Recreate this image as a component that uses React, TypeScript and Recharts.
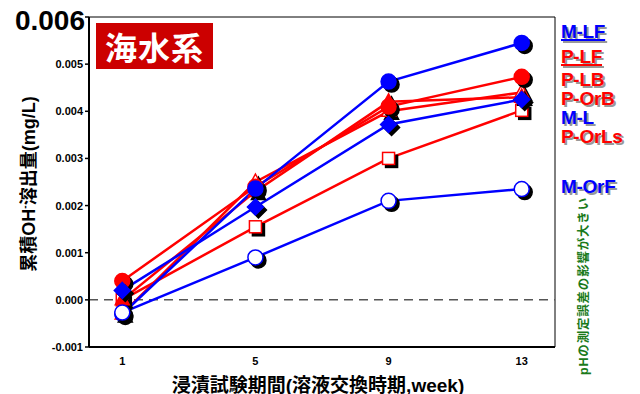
import React from 'react';
import { LineChart, Line, XAxis, YAxis, ReferenceLine, ReferenceArea } from 'recharts';

// leaching period (solution exchange week)
const weeks = [1, 5, 9, 13];

// cumulative OH- release (mg/L)
const mLF = [-0.0003, 0.00236, 0.00463, 0.00545];
const pLF = [0.0004, 0.0024, 0.0041, 0.00473];
const pLB = [-0.0003, 0.0025, 0.0040, 0.0044];
const pOrB = [0.0, 0.0023, 0.0042, 0.0043];
const mL = [0.0002, 0.00197, 0.00372, 0.00425];
const pOrLs = [0.0, 0.00155, 0.0030, 0.00402];
const mOrF = [-0.00027, 0.0009, 0.0021, 0.00235];

const yTicks = [-0.001, 0, 0.001, 0.002, 0.003, 0.004, 0.005, 0.006];

const legendItems = [
  { name: 'M-LF', color: '#0000ff', top: 21, underline: true },
  { name: 'P-LF', color: '#ff0000', top: 46, underline: true },
  { name: 'P-LB', color: '#ff0000', top: 69, underline: false },
  { name: 'P-OrB', color: '#ff0000', top: 88, underline: false },
  { name: 'M-L', color: '#0000ff', top: 107, underline: false },
  { name: 'P-OrLs', color: '#ff0000', top: 126, underline: false },
  { name: 'M-OrF', color: '#0000ff', top: 176, underline: false },
];

const data = weeks.map((w, i) => ({
  week: w,
  mLF: mLF[i],
  pLF: pLF[i],
  pLB: pLB[i],
  pOrB: pOrB[i],
  mL: mL[i],
  pOrLs: pOrLs[i],
  mOrF: mOrF[i],
}));

const FONT = '"Liberation Sans", Arial, "Noto Sans CJK JP", sans-serif';
const BLUE = '#0000ff';
const RED = '#ff0000';

type Shape = 'circle' | 'square' | 'diamond' | 'triangle';

function marker(shape: Shape, x: number, y: number, fill: string, stroke: string) {
  const sw = 1.5;
  if (shape === 'circle') return <circle cx={x} cy={y} r={7.5} fill={fill} stroke={stroke} strokeWidth={sw} />;
  if (shape === 'square') return <rect x={x - 6} y={y - 6} width={12} height={12} fill={fill} stroke={stroke} strokeWidth={sw} />;
  if (shape === 'diamond')
    return <polygon points={`${x},${y - 8} ${x + 8},${y} ${x},${y + 8} ${x - 8},${y}`} fill={fill} stroke={stroke} strokeWidth={sw} />;
  return <polygon points={`${x},${y - 8} ${x + 7},${y + 5} ${x - 7},${y + 5}`} fill={fill} stroke={stroke} strokeWidth={sw} />;
}

// marker with a black drop shadow
const dotWithShadow = (shape: Shape, fill: string, stroke: string) => (props: any) => {
  const { cx, cy, index } = props;
  if (cx == null || cy == null) return <g key={index} />;
  return (
    <g key={index}>
      {marker(shape, cx + 3, cy + 3, '#000', '#000')}
      {marker(shape, cx, cy, fill, stroke)}
    </g>
  );
};

const YTick = (props: any) => {
  const { x, y, payload } = props;
  const v = payload.value as number;
  if (Math.abs(v - 0.006) < 1e-9) {
    return (
      <text x={x + 2} y={y + 13} textAnchor="end" fontFamily={FONT} fontWeight="bold" fontSize={28} fill="#000">
        {v.toFixed(3)}
      </text>
    );
  }
  return (
    <text x={x} y={y + 4} textAnchor="end" fontFamily={FONT} fontWeight="bold" fontSize={11} fill="#000">
      {v.toFixed(3)}
    </text>
  );
};

const XTick = (props: any) => {
  const { x, y, payload } = props;
  return (
    <text x={x} y={y + 10} textAnchor="middle" fontFamily={FONT} fontWeight="bold" fontSize={11} fill="#000">
      {payload.value}
    </text>
  );
};

export default function App() {
  // later entries are drawn on top
  const series: { key: string; color: string; shape: Shape; filled: boolean }[] = [
    { key: 'pOrLs', color: RED, shape: 'square', filled: false },
    { key: 'pLB', color: RED, shape: 'triangle', filled: false },
    { key: 'pOrB', color: RED, shape: 'triangle', filled: true },
    { key: 'pLF', color: RED, shape: 'circle', filled: true },
    { key: 'mLF', color: BLUE, shape: 'circle', filled: true },
    { key: 'mL', color: BLUE, shape: 'diamond', filled: true },
    { key: 'mOrF', color: BLUE, shape: 'circle', filled: false },
  ];

  return (
    <div style={{ position: 'absolute', left: 0, top: 0, width: 640, height: 394, background: '#fff', fontFamily: FONT }}>
      <LineChart width={640} height={394} data={data} margin={{ top: 17, right: 85, left: 29, bottom: 17 }}>
        <ReferenceArea x1={0} x2={14} y1={-0.001} y2={0.006} fill="none" stroke="#000" strokeWidth={1} ifOverflow="visible" />
        <XAxis
          dataKey="week"
          type="number"
          domain={[0, 14]}
          ticks={weeks}
          height={30}
          tick={<XTick />}
          tickLine={false}
          axisLine={{ stroke: '#000', strokeWidth: 2 }}
        />
        <YAxis
          type="number"
          domain={[-0.001, 0.006]}
          ticks={yTicks}
          width={60}
          tick={<YTick />}
          tickSize={4}
          tickMargin={2}
          tickLine={{ stroke: '#000', strokeWidth: 1.5 }}
          axisLine={{ stroke: '#000', strokeWidth: 2 }}
          allowDataOverflow
        />
        <ReferenceLine y={0} stroke="#555" strokeWidth={1.5} strokeDasharray="9 6" />
        {series.map((s) => (
          <Line
            key={s.key}
            dataKey={s.key}
            stroke={s.color}
            strokeWidth={2.5}
            isAnimationActive={false}
            dot={dotWithShadow(s.shape, s.filled ? s.color : '#fff', s.color)}
            activeDot={false}
          />
        ))}
      </LineChart>

      {/* title box */}
      <div
        style={{
          position: 'absolute', left: 96, top: 23, width: 117, height: 46, background: '#cc0000',
          color: '#fff', fontWeight: 'bold', fontSize: 32, lineHeight: '46px', textAlign: 'center',
          fontFamily: '"Noto Sans CJK JP", sans-serif', letterSpacing: 1,
        }}
      >
        海水系
      </div>

      {/* y axis title */}
      <div
        style={{
          position: 'absolute', left: 27, top: 184, transform: 'translate(-50%, -50%) rotate(-90deg)',
          whiteSpace: 'nowrap', fontWeight: 'bold', fontSize: 18, color: '#000',
        }}
      >
        累積OH<sup style={{ fontSize: 10 }}>-</sup>溶出量(mg/L)
      </div>

      {/* x axis title */}
      <div
        style={{
          position: 'absolute', left: 318, top: 383, transform: 'translate(-50%, -50%)',
          whiteSpace: 'nowrap', fontWeight: 'bold', fontSize: 19, color: '#000',
        }}
      >
        浸漬試験期間(溶液交換時期,week)
      </div>

      {/* series names */}
      {legendItems.map((it) => (
        <div
          key={it.name}
          style={{
            position: 'absolute', left: 561, top: it.top, fontWeight: 'bold', fontSize: 19, lineHeight: '22px',
            color: it.color, textShadow: '2px 2px 0 #999', whiteSpace: 'nowrap', letterSpacing: -0.3,
            textDecoration: it.underline ? 'underline' : 'none', textDecorationThickness: 2,
          }}
        >
          {it.name}
        </div>
      ))}

      {/* note on the right */}
      <div
        style={{
          position: 'absolute', left: 582, top: 286, transform: 'translate(-50%, -50%) rotate(-90deg)',
          whiteSpace: 'nowrap', fontWeight: 'bold', fontSize: 12.5, letterSpacing: 0.8, color: '#1a7a1a',
        }}
      >
        pHの測定誤差の影響が大きい
      </div>
    </div>
  );
}
